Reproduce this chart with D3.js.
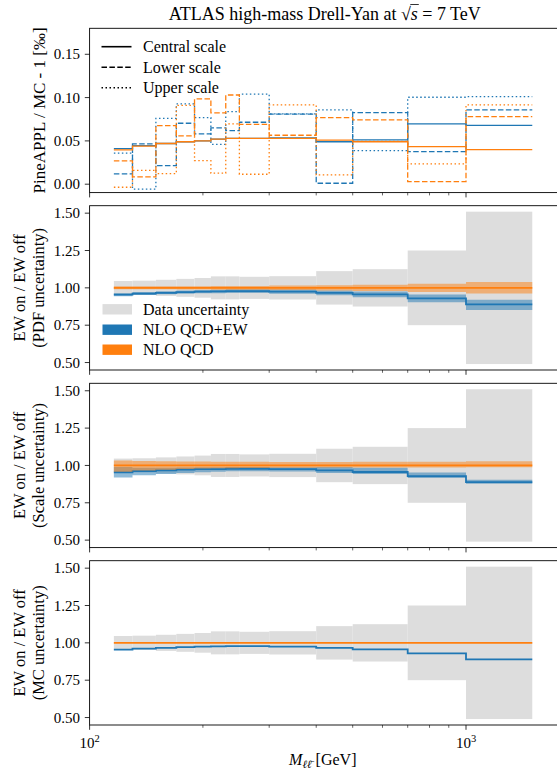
<!DOCTYPE html>
<html>
<head>
<meta charset="utf-8">
<script src="https://cdn.jsdelivr.net/npm/d3@7"></script>
<style>
  html, body { margin: 0; padding: 0; background: #fff; }
  svg { display: block; }
  text { font-family: "Liberation Serif", "Times New Roman", serif; fill: #000; }
</style>
</head>
<body>
<div id="chart"></div>
<script>
// ---------------- data ----------------
const binEdges = [116, 130, 150, 170, 190, 210, 230, 250, 300, 400, 500, 700, 1000, 1500];

// Top panel: PineAPPL / MC - 1 [permille]
const ewCentral  = [0.0410, 0.0445, 0.0470, 0.0490, 0.0500, 0.0520, 0.0530, 0.0530, 0.0534, 0.0490, 0.0511, 0.0696, 0.0680];
const ewLower    = [0.0119, 0.0465, 0.0215, 0.0704, 0.0580, 0.0650, 0.0619, 0.0715, 0.0810, 0.0011, 0.0827, 0.0376, 0.0857];
const ewUpper    = [0.0358, -0.0058, 0.0760, 0.0927, 0.0769, 0.0460, 0.0838, 0.1040, 0.0812, 0.0857, 0.0388, 0.1004, 0.1010];
const qcdCentral = [0.0396, 0.0440, 0.0470, 0.0490, 0.0500, 0.0520, 0.0530, 0.0530, 0.0528, 0.0508, 0.0490, 0.0434, 0.0400];
const qcdLower   = [0.0269, 0.0084, 0.0677, 0.0557, 0.0984, 0.0823, 0.1030, 0.0690, 0.0565, 0.0769, 0.0742, 0.0030, 0.0780];
const qcdUpper   = [-0.0035, 0.0160, 0.0122, 0.0910, 0.0273, 0.0127, 0.0696, 0.0115, 0.0915, 0.0107, 0.0495, 0.0234, 0.0915];

// Ratio panels: EW on / EW off
const dataUnc     = [0.046, 0.048, 0.054, 0.060, 0.066, 0.077, 0.077, 0.074, 0.078, 0.112, 0.125, 0.250, 0.510];
const ewRatio     = [0.954, 0.962, 0.967, 0.972, 0.975, 0.976, 0.978, 0.978, 0.975, 0.967, 0.956, 0.929, 0.889];
const qcdRatio    = [1.000, 1.000, 1.000, 1.000, 1.000, 1.000, 1.000, 1.000, 1.000, 1.000, 1.000, 1.000, 1.000];
// PDF uncertainty (absolute band edges)
const ewPdfHi     = [0.964, 0.972, 0.977, 0.983, 0.986, 0.988, 0.990, 0.991, 0.989, 0.983, 0.975, 0.955, 0.920];
const ewPdfLo     = [0.944, 0.952, 0.957, 0.961, 0.964, 0.964, 0.966, 0.965, 0.961, 0.951, 0.937, 0.904, 0.851];
const qcdPdfHi    = [1.010, 1.010, 1.010, 1.011, 1.011, 1.012, 1.012, 1.013, 1.015, 1.017, 1.021, 1.028, 1.040];
const qcdPdfLo    = [0.990, 0.990, 0.990, 0.989, 0.989, 0.988, 0.988, 0.987, 0.985, 0.983, 0.979, 0.972, 0.962];
// Scale uncertainty (absolute band edges)
const ewScaleHi   = [0.989, 0.984, 0.985, 0.987, 0.988, 0.988, 0.989, 0.989, 0.988, 0.989, 0.985, 0.953, 0.905];
const ewScaleLo   = [0.920, 0.934, 0.943, 0.950, 0.954, 0.958, 0.961, 0.962, 0.960, 0.950, 0.942, 0.916, 0.878];
const qcdScaleHi  = [1.033, 1.030, 1.028, 1.027, 1.026, 1.025, 1.024, 1.024, 1.023, 1.023, 1.024, 1.025, 1.028];
const qcdScaleLo  = [0.957, 0.966, 0.972, 0.976, 0.979, 0.981, 0.982, 0.983, 0.984, 0.986, 0.986, 0.987, 0.988];

const topTicks   = [0.00, 0.05, 0.10, 0.15];
const ratioTicks = [0.50, 0.75, 1.00, 1.25, 1.50];
const xMajor     = [100, 1000];
const xMinor     = [200, 300, 400, 500, 600, 700, 800, 900];

const titleText  = ["ATLAS high-mass Drell-Yan at ", "s", " = 7 TeV"];
const topYLabel  = "PineAPPL / MC - 1 [‰]";
const ratioLabels = ["(PDF uncertainty)", "(Scale uncertainty)", "(MC uncertainty)"];
const legendTop   = ["Central scale", "Lower scale", "Upper scale"];
const legendRatio = ["Data uncertainty", "NLO QCD+EW", "NLO QCD"];

// ---------------- layout ----------------
const W = 557, H = 771;
const left = 89.6, right = 560;
const panelTops = [28.3, 205.7, 383.3, 560.7];
const panelH = 164.3;
const BLUE = "#1f77b4", ORANGE = "#ff7f0e", GREY = "#dddddd";
const FS = 15, LFS = 16, YFS = 16.5;

const svg = d3.select("#chart").append("svg").attr("width", W).attr("height", H);

const x = d3.scaleLog().domain([100, Math.pow(10, 2 + (right - left) / 376.4)]).range([left, right]);

function yTop() { return d3.scaleLinear().domain([-0.0097, 0.18]).range([panelTops[0] + panelH, panelTops[0]]); }
function yRatio(i) { return d3.scaleLinear().domain([0.45, 1.55]).range([panelTops[i] + panelH, panelTops[i]]); }

function stepPts(vals) {
  const pts = vals.map((v, i) => [binEdges[i], v]);
  pts.push([binEdges[binEdges.length - 1], vals[vals.length - 1]]);
  return pts;
}
function stepBand(lo, hi) {
  const pts = lo.map((v, i) => ({x: binEdges[i], lo: v, hi: hi[i]}));
  pts.push({x: binEdges[binEdges.length - 1], lo: lo[lo.length - 1], hi: hi[hi.length - 1]});
  return pts;
}

// clip
const defs = svg.append("defs");
panelTops.forEach((t, i) => {
  defs.append("clipPath").attr("id", "clip" + i)
    .append("rect").attr("x", left).attr("y", t).attr("width", right - left).attr("height", panelH);
});

function drawXAxis(g, i, withLabels) {
  const yb = panelTops[i] + panelH;
  const ax = g.append("g").attr("transform", `translate(0,${yb})`);
  xMajor.forEach(v => {
    ax.append("line").attr("x1", x(v)).attr("x2", x(v)).attr("y1", 0).attr("y2", 4.8)
      .attr("stroke", "#000").attr("stroke-width", 0.8);
  });
  xMinor.forEach(v => {
    ax.append("line").attr("x1", x(v)).attr("x2", x(v)).attr("y1", 0).attr("y2", 2.8)
      .attr("stroke", "#000").attr("stroke-width", 0.6);
  });
  if (withLabels) {
    xMajor.forEach(v => {
      const t = ax.append("text").attr("x", x(v)).attr("y", 23).attr("text-anchor", "middle")
        .style("font-size", FS + "px");
      t.append("tspan").text("10");
      t.append("tspan").attr("dy", -6).style("font-size", "10.5px").text(String(Math.round(Math.log10(v))));
    });
  }
}
function drawYAxis(g, y, ticks, fmt) {
  ticks.forEach(v => {
    g.append("line").attr("x1", left - 4.8).attr("x2", left).attr("y1", y(v)).attr("y2", y(v))
      .attr("stroke", "#000").attr("stroke-width", 0.8);
    g.append("text").attr("x", left - 9.5).attr("y", y(v)).attr("dy", "0.34em")
      .attr("text-anchor", "end").style("font-size", FS + "px").text(fmt(v));
  });
}
function frame(g, i) {
  g.append("rect").attr("x", left).attr("y", panelTops[i]).attr("width", right - left).attr("height", panelH)
    .attr("fill", "none").attr("stroke", "#000").attr("stroke-width", 0.9);
}

const fmt2 = d3.format(".2f");

// ---------------- Panel 1 ----------------
{
  const y = yTop();
  const g = svg.append("g");
  const pg = g.append("g").attr("clip-path", "url(#clip0)");
  const line = d3.line().x(d => x(d[0])).y(d => y(d[1])).curve(d3.curveStepAfter);
  const series = [
    {v: ewCentral, c: BLUE, dash: null},
    {v: ewLower, c: BLUE, dash: "5.5,2.4"},
    {v: ewUpper, c: BLUE, dash: "1.5,2.5"},
    {v: qcdCentral, c: ORANGE, dash: null},
    {v: qcdLower, c: ORANGE, dash: "5.5,2.4"},
    {v: qcdUpper, c: ORANGE, dash: "1.5,2.5"},
  ];
  series.forEach(s => {
    pg.append("path").attr("d", line(stepPts(s.v))).attr("fill", "none")
      .attr("stroke", s.c).attr("stroke-width", 1.3)
      .attr("stroke-dasharray", s.dash);
  });
  // legend
  const dashes = [null, "5.5,2.4", "1.5,2.5"];
  const rowsY = [46.7, 67.2, 87.7];
  legendTop.forEach((lab, k) => {
    g.append("line").attr("x1", 101.5).attr("x2", 131.5).attr("y1", rowsY[k]).attr("y2", rowsY[k])
      .attr("stroke", "#000").attr("stroke-width", 1.6).attr("stroke-dasharray", dashes[k]);
    g.append("text").attr("x", 143).attr("y", rowsY[k]).attr("dy", "0.34em")
      .style("font-size", LFS + "px").text(lab);
  });
  drawYAxis(g, y, topTicks, fmt2);
  drawXAxis(g, 0, false);
  frame(g, 0);
  g.append("text").attr("transform", `translate(45,${panelTops[0] + panelH / 2}) rotate(-90)`)
    .attr("text-anchor", "middle").style("font-size", (YFS + 0.5) + "px").text(topYLabel);
}

// ---------------- Ratio panels ----------------
const bandSets = [
  {ew: [ewPdfLo, ewPdfHi], qcd: [qcdPdfLo, qcdPdfHi]},
  {ew: [ewScaleLo, ewScaleHi], qcd: [qcdScaleLo, qcdScaleHi]},
  null
];
[1, 2, 3].forEach(i => {
  const y = yRatio(i);
  const g = svg.append("g");
  const pg = g.append("g").attr("clip-path", `url(#clip${i})`);
  // data uncertainty
  pg.selectAll("rect.data").data(dataUnc).enter().append("rect")
    .attr("x", (d, k) => x(binEdges[k]))
    .attr("width", (d, k) => x(binEdges[k + 1]) - x(binEdges[k]))
    .attr("y", d => y(1 + d))
    .attr("height", d => y(1 - d) - y(1 + d))
    .attr("fill", GREY);
  const area = d3.area().x(d => x(d.x)).y0(d => y(d.lo)).y1(d => y(d.hi)).curve(d3.curveStepAfter);
  const line = d3.line().x(d => x(d[0])).y(d => y(d[1])).curve(d3.curveStepAfter);
  const bs = bandSets[i - 1];
  if (bs) {
    pg.append("path").attr("d", area(stepBand(bs.ew[0], bs.ew[1]))).attr("fill", BLUE).attr("fill-opacity", 0.5);
  }
  pg.append("path").attr("d", line(stepPts(ewRatio))).attr("fill", "none").attr("stroke", BLUE).attr("stroke-width", 1.8);
  if (bs) {
    pg.append("path").attr("d", area(stepBand(bs.qcd[0], bs.qcd[1]))).attr("fill", ORANGE).attr("fill-opacity", 0.5);
  }
  pg.append("path").attr("d", line(stepPts(qcdRatio))).attr("fill", "none").attr("stroke", ORANGE).attr("stroke-width", 1.8);

  if (i === 1) {
    const cols = [GREY, BLUE, ORANGE];
    const rowsY = [309.3, 329.7, 349.7];
    legendRatio.forEach((lab, k) => {
      g.append("rect").attr("x", 102.5).attr("y", rowsY[k] - 5.2).attr("width", 29.5).attr("height", 10.4).attr("fill", cols[k]);
      g.append("text").attr("x", 143).attr("y", rowsY[k]).attr("dy", "0.34em").style("font-size", LFS + "px").text(lab);
    });
  }
  drawYAxis(g, y, ratioTicks, fmt2);
  drawXAxis(g, i, i === 3);
  frame(g, i);
  const cy = panelTops[i] + panelH / 2;
  g.append("text").attr("transform", `translate(25,${cy}) rotate(-90)`).attr("text-anchor", "middle")
    .style("font-size", YFS + "px").text("EW on / EW off");
  g.append("text").attr("transform", `translate(43.5,${cy}) rotate(-90)`).attr("text-anchor", "middle")
    .style("font-size", YFS + "px").text(ratioLabels[i - 1]);
});

// ---------------- title ----------------
{
  const cx = (left + right) / 2;
  const t = svg.append("text").attr("x", cx).attr("y", 19.5).attr("text-anchor", "middle").style("font-size", "18px");
  t.append("tspan").text(titleText[0]);
  t.append("tspan").text("√");
  t.append("tspan").style("font-style", "italic").text(titleText[1]);
  t.append("tspan").text(titleText[2]);
  const node = t.node();
  const idx = titleText[0].length + 1;
  try {
    const s0 = node.getStartPositionOfChar(idx);
    const e0 = node.getEndPositionOfChar(idx);
    svg.append("line").attr("x1", s0.x - 0.5).attr("x2", e0.x + 1).attr("y1", 4.5).attr("y2", 4.5)
      .attr("stroke", "#000").attr("stroke-width", 0.8);
  } catch (e) {}
}

// ---------------- x label ----------------
{
  const t = svg.append("text").attr("x", (left + right) / 2 - 2).attr("y", 765).attr("text-anchor", "middle").style("font-size", LFS + "px");
  t.append("tspan").style("font-style", "italic").text("M");
  t.append("tspan").attr("dy", 3).style("font-size", "11px").style("font-style", "italic").text("ℓℓ̄");
  t.append("tspan").attr("dy", -3).text(" [GeV]");
}
</script>
</body>
</html>
